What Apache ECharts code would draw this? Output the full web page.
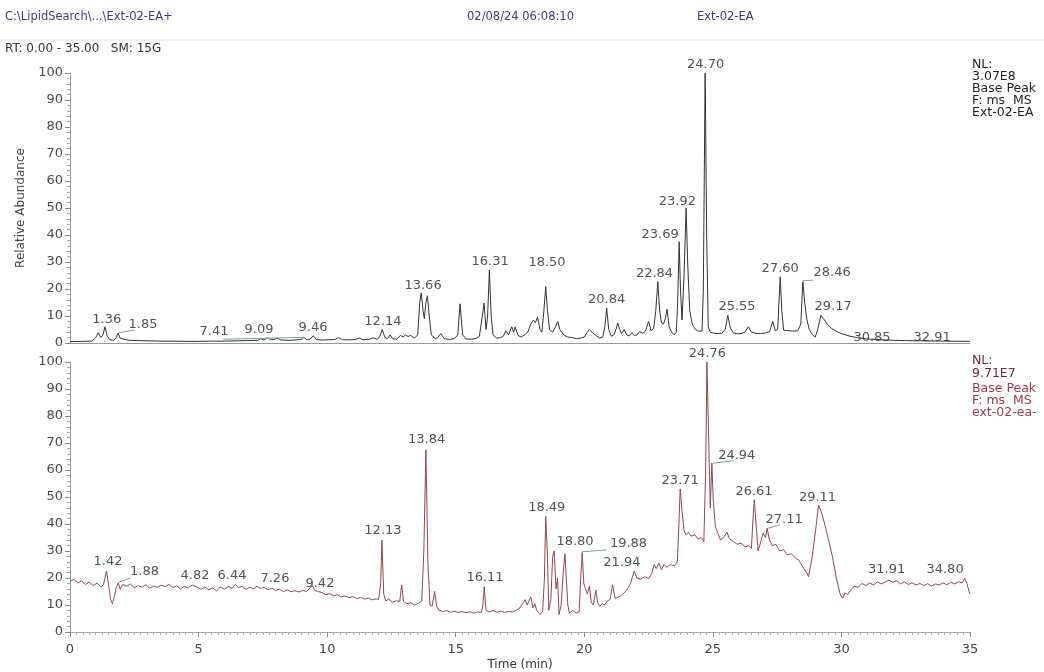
<!DOCTYPE html>
<html>
<head>
<meta charset="utf-8">
<script src="https://cdn.jsdelivr.net/npm/echarts/dist/echarts.min.js"></script>
<style>
  html, body { margin: 0; padding: 0; background: #fff; }
  #chart { width: 1044px; height: 672px; }
</style>
</head>
<body>
<div id="chart"></div>
<script>
// [time (min), relative abundance]
var topTrace = [
  [0.0,0.5],[0.5,0.6],[0.85,0.7],[1.0,2.0],[1.1,3.8],[1.2,2.0],[1.28,3.0],[1.36,6.0],[1.45,2.5],[1.55,1.2],
  [1.7,1.0],[1.8,2.0],[1.87,3.7],[1.95,1.8],[2.1,1.4],[2.3,1.0],[2.6,0.9],[3.0,0.8],[3.5,0.7],[4.0,0.7],
  [4.5,0.6],[5.0,0.6],[5.5,0.7],[6.0,0.7],[6.5,0.8],[7.0,0.9],[7.3,1.0],[7.41,1.6],[7.55,1.1],[7.68,2.0],
  [7.8,1.2],[7.95,1.3],[8.05,1.9],[8.2,1.1],[8.5,1.0],[8.8,1.1],[9.0,1.4],[9.09,2.1],[9.2,1.3],[9.35,1.5],
  [9.46,2.7],[9.58,1.3],[9.8,1.1],[10.1,1.2],[10.3,1.3],[10.45,2.0],[10.6,1.2],[10.9,1.2],[11.1,1.3],[11.25,1.8],
  [11.4,1.2],[11.65,1.4],[11.8,1.9],[11.95,1.4],[12.05,2.5],[12.14,5.0],[12.25,2.0],[12.35,1.6],[12.45,3.0],[12.55,1.6],
  [12.7,1.4],[12.85,2.8],[12.95,2.2],[13.05,3.0],[13.15,2.4],[13.25,2.8],[13.4,1.8],[13.52,3.0],[13.6,15.0],[13.66,18.6],
  [13.73,12.0],[13.78,9.0],[13.84,15.0],[13.9,17.5],[13.97,10.0],[14.05,3.0],[14.2,1.6],[14.3,2.0],[14.42,3.5],[14.55,1.6],
  [14.75,1.3],[14.95,1.6],[15.08,3.0],[15.17,14.5],[15.27,3.0],[15.4,1.5],[15.6,1.4],[15.8,1.7],[15.92,2.5],[16.02,9.0],
  [16.1,14.8],[16.18,5.0],[16.24,10.0],[16.31,27.0],[16.38,10.0],[16.45,3.0],[16.6,1.8],[16.75,2.0],[16.85,2.5],[16.95,4.5],
  [17.05,3.0],[17.18,6.0],[17.25,4.0],[17.31,6.0],[17.42,2.8],[17.55,2.2],[17.7,3.2],[17.8,4.0],[17.92,7.0],[18.02,8.5],
  [18.1,7.5],[18.18,9.6],[18.28,5.0],[18.35,4.0],[18.43,12.0],[18.5,21.0],[18.57,12.0],[18.65,5.0],[18.77,4.0],[18.88,6.0],
  [18.97,8.0],[19.05,5.0],[19.2,3.0],[19.35,2.2],[19.5,2.0],[19.7,1.6],[19.85,1.8],[20.0,2.2],[20.12,4.0],[20.2,5.0],
  [20.32,3.8],[20.45,2.8],[20.6,1.8],[20.72,2.2],[20.8,6.0],[20.87,13.0],[20.95,5.0],[21.05,2.5],[21.15,3.0],[21.25,5.5],
  [21.3,7.4],[21.38,5.0],[21.45,3.5],[21.55,5.0],[21.65,3.0],[21.75,2.6],[21.85,3.8],[21.95,2.8],[22.05,3.0],[22.15,4.2],
  [22.28,3.6],[22.38,4.4],[22.5,8.0],[22.6,4.5],[22.7,5.5],[22.78,12.0],[22.86,22.7],[22.93,12.0],[23.0,7.5],[23.08,7.0],
  [23.15,9.0],[23.22,12.5],[23.3,6.0],[23.4,4.0],[23.5,3.0],[23.58,4.0],[23.63,15.0],[23.69,37.5],[23.74,20.0],[23.8,8.5],
  [23.88,25.0],[23.96,50.0],[24.02,30.0],[24.1,12.0],[24.2,7.0],[24.32,5.0],[24.45,4.3],[24.58,4.5],[24.63,20.0],[24.7,100],
  [24.76,40.0],[24.82,6.0],[24.9,4.0],[25.05,3.6],[25.2,3.5],[25.35,3.6],[25.48,5.0],[25.58,10.3],[25.68,5.5],[25.8,3.8],
  [25.95,3.4],[26.1,3.5],[26.25,4.0],[26.38,6.0],[26.5,4.0],[26.65,3.6],[26.85,3.5],[27.05,3.7],[27.2,4.2],[27.33,8.0],
  [27.43,4.5],[27.52,5.0],[27.57,15.0],[27.62,24.5],[27.68,12.0],[27.75,4.8],[27.9,4.6],[28.1,4.4],[28.3,4.5],[28.42,7.0],
  [28.5,22.7],[28.57,15.0],[28.65,9.0],[28.75,5.0],[28.88,3.0],[28.98,2.2],[29.08,5.0],[29.2,10.3],[29.3,9.0],[29.45,7.0],
  [29.6,5.5],[29.8,4.3],[30.0,3.5],[30.3,2.6],[30.6,2.0],[31.0,1.5],[31.5,1.2],[32.0,1.0],[32.5,0.9],[33.0,0.8],
  [34.0,0.7],[35.0,0.6]
];

var bottomTrace = [
  [0.0,18.8],[0.15,19.4],[0.3,18.2],[0.45,18.9],[0.6,17.6],[0.75,18.5],[0.9,17.2],[1.05,18.1],[1.2,16.8],[1.3,17.5],
  [1.36,20.0],[1.42,22.6],[1.5,17.5],[1.58,12.0],[1.65,10.5],[1.72,13.0],[1.8,16.5],[1.88,18.2],[1.95,15.8],[2.05,17.6],
  [2.2,16.9],[2.35,17.8],[2.5,16.4],[2.65,17.2],[2.8,16.6],[2.95,17.5],[3.1,16.2],[3.25,17.0],[3.4,16.5],[3.55,17.4],
  [3.7,16.8],[3.85,17.6],[4.0,16.4],[4.15,17.1],[4.3,16.0],[4.45,16.9],[4.6,16.3],[4.75,17.4],[4.82,17.8],[4.95,16.6],
  [5.1,15.8],[5.25,16.7],[5.4,15.6],[5.55,16.4],[5.7,15.2],[5.85,16.6],[6.0,15.9],[6.15,16.8],[6.3,16.2],[6.44,17.6],
  [6.55,16.4],[6.7,16.9],[6.85,15.8],[7.0,16.6],[7.15,15.9],[7.26,17.0],[7.4,16.1],[7.55,16.5],[7.7,15.6],[7.85,16.2],
  [8.0,15.4],[8.15,15.8],[8.3,15.0],[8.45,15.6],[8.6,14.9],[8.75,15.3],[8.9,14.8],[9.05,15.4],[9.2,15.0],[9.3,16.0],
  [9.42,17.2],[9.52,15.4],[9.65,15.0],[9.8,14.6],[9.95,13.8],[10.1,14.2],[10.25,13.4],[10.4,13.8],[10.55,13.0],[10.7,13.4],
  [10.85,12.7],[11.0,13.1],[11.15,12.4],[11.3,12.8],[11.45,12.2],[11.6,12.6],[11.75,11.9],[11.9,12.3],[12.0,12.0],[12.08,18.0],
  [12.13,34.0],[12.2,14.0],[12.28,11.5],[12.4,12.2],[12.55,11.0],[12.7,11.6],[12.82,11.2],[12.9,17.4],[12.97,11.4],[13.1,10.5],
  [13.25,10.9],[13.4,10.0],[13.55,10.6],[13.68,11.5],[13.76,30.0],[13.84,67.5],[13.92,25.0],[14.0,10.0],[14.08,9.6],[14.18,15.0],
  [14.26,9.5],[14.35,8.0],[14.5,7.6],[14.65,7.9],[14.8,7.3],[14.95,7.7],[15.1,7.2],[15.25,7.6],[15.4,7.1],[15.55,7.5],
  [15.7,7.0],[15.85,7.4],[16.0,7.2],[16.06,10.0],[16.11,16.8],[16.18,8.0],[16.3,7.4],[16.45,8.0],[16.6,7.3],[16.75,7.8],
  [16.9,7.2],[17.05,7.6],[17.2,7.4],[17.35,8.0],[17.5,9.0],[17.6,10.5],[17.7,12.0],[17.78,10.0],[17.85,11.5],[17.92,13.0],
  [18.0,9.0],[18.08,10.5],[18.15,8.0],[18.28,6.5],[18.38,7.5],[18.45,20.0],[18.5,42.8],[18.56,30.0],[18.62,8.0],[18.7,12.0],
  [18.77,28.0],[18.83,30.0],[18.9,16.0],[18.96,20.0],[19.02,6.5],[19.1,10.0],[19.18,22.0],[19.25,29.0],[19.3,20.0],[19.36,10.0],
  [19.42,7.0],[19.55,8.0],[19.68,7.0],[19.8,7.5],[19.86,20.0],[19.92,29.4],[19.98,18.0],[20.05,16.0],[20.12,14.0],[20.2,17.0],
  [20.27,11.0],[20.35,10.0],[20.45,15.5],[20.52,11.0],[20.6,9.5],[20.7,10.5],[20.8,10.0],[20.9,11.5],[21.0,12.0],[21.1,17.5],
  [21.2,12.5],[21.35,13.0],[21.5,14.0],[21.65,15.5],[21.8,18.0],[21.94,22.5],[22.05,20.0],[22.2,19.5],[22.35,20.5],[22.5,19.8],
  [22.62,21.5],[22.72,25.0],[22.8,23.5],[22.9,25.5],[23.0,23.0],[23.1,25.0],[23.2,24.0],[23.35,25.0],[23.5,24.5],[23.62,26.0],
  [23.68,40.0],[23.73,53.0],[23.8,45.0],[23.88,37.5],[23.96,36.0],[24.05,37.0],[24.15,35.5],[24.3,36.0],[24.42,34.5],[24.55,35.0],
  [24.65,33.5],[24.72,60.0],[24.77,100],[24.84,70.0],[24.9,46.0],[24.96,62.5],[25.02,48.0],[25.1,39.0],[25.2,36.5],[25.3,34.0],
  [25.45,35.5],[25.55,37.0],[25.65,34.5],[25.8,33.5],[25.95,32.5],[26.1,33.0],[26.25,31.5],[26.4,32.0],[26.5,31.0],[26.55,40.0],
  [26.61,49.0],[26.68,40.0],[26.76,30.0],[26.85,33.0],[26.95,36.5],[27.05,35.0],[27.11,38.5],[27.2,34.0],[27.32,32.0],[27.45,32.5],
  [27.6,30.0],[27.75,30.5],[27.9,28.5],[28.05,29.0],[28.2,27.5],[28.35,26.5],[28.5,24.0],[28.65,22.0],[28.72,20.5],[28.85,27.0],
  [29.0,38.0],[29.11,47.0],[29.2,45.0],[29.35,40.0],[29.5,34.0],[29.65,28.0],[29.8,20.0],[29.95,14.0],[30.05,12.5],[30.15,14.5],
  [30.25,13.8],[30.35,15.5],[30.5,17.0],[30.65,16.5],[30.8,18.0],[30.95,17.2],[31.1,18.2],[31.25,17.4],[31.4,18.6],[31.55,17.8],
  [31.7,18.5],[31.85,19.2],[31.91,19.6],[32.0,18.4],[32.15,19.0],[32.3,17.8],[32.45,18.6],[32.6,17.6],[32.75,18.2],[32.9,17.4],
  [33.05,18.0],[33.2,17.2],[33.35,17.9],[33.5,17.0],[33.65,17.8],[33.8,17.4],[33.95,18.2],[34.1,17.5],[34.25,18.4],[34.4,17.8],
  [34.55,18.6],[34.7,18.2],[34.8,19.8],[34.88,18.0],[34.95,15.5],[35.0,14.0]
];

// peak annotations: [time, abundance where the text sits, text]
var topLabels = [
  [1.43,8.8,'1.36'],[2.84,6.7,'1.85'],[5.6,4.1,'7.41'],[7.35,4.8,'9.09'],[9.45,5.6,'9.46'],
  [12.17,7.8,'12.14'],[13.73,21.1,'13.66'],[16.34,30,'16.31'],[18.55,29.6,'18.50'],[20.87,15.9,'20.84'],
  [22.73,25.8,'22.84'],[22.95,40,'23.69'],[23.62,52.3,'23.92'],[24.72,103,'24.70'],[25.94,13.3,'25.55'],
  [27.62,27.4,'27.60'],[29.64,25.9,'28.46'],[29.68,13.3,'29.17'],[31.19,1.9,'30.85'],[33.53,1.9,'32.91']
];
var bottomLabels = [
  [1.48,25.9,'1.42'],[2.9,22.2,'1.88'],[4.86,20.7,'4.82'],[6.3,20.7,'6.44'],[7.97,19.6,'7.26'],
  [9.72,18.1,'9.42'],[12.17,37.4,'12.13'],[13.87,71.1,'13.84'],[16.14,20,'16.11'],[18.54,45.9,'18.49'],
  [19.64,33.4,'18.80'],[21.72,32.6,'19.88'],[21.46,25.8,'21.94'],[23.73,56,'23.71'],[24.79,103.2,'24.76'],
  [25.93,65.2,'24.94'],[26.6,52,'26.61'],[27.77,41.5,'27.11'],[29.07,49.7,'29.11'],[31.76,23,'31.91'],
  [34.03,23,'34.80']
];

// leader lines from a peak to its shifted label
var topLeaders = [
  [[1.88,3.8],[2.5,4.8]],
  [[5.96,1.4],[9.14,2.1]],
  [[28.5,23.1],[28.9,23.3]]
];
var bottomLeaders = [
  [[1.9,18.5],[2.35,20.0]],
  [[19.9,29.7],[20.87,30.4]],
  [[24.98,62.5],[25.8,63.4]],
  [[27.12,38.4],[27.6,39.6]]
];

var yTicks = { min: 0, max: 100, interval: 10 };
var xTicks = { min: 0, max: 35, interval: 5 };

var FONT = 'DejaVu Sans';

function yAxisOf(idx, name) {
  return {
    type: 'value',
    gridIndex: idx,
    min: yTicks.min, max: yTicks.max, interval: yTicks.interval,
    name: name,
    nameLocation: 'middle',
    nameGap: 41,
    nameTextStyle: { fontFamily: FONT, fontSize: 12, color: '#444' },
    axisLine: { show: true, lineStyle: { color: '#999', width: 1 } },
    axisTick: { show: true, length: 5, lineStyle: { color: '#888' } },
    minorTick: { show: true, splitNumber: 5, length: 3, lineStyle: { color: '#aaa' } },
    splitLine: { show: false },
    axisLabel: { fontFamily: FONT, fontSize: 13, color: '#4a4a4a', margin: 7 }
  }
}

function labelSeries(idx, labels) {
  return {
    type: 'scatter',
    xAxisIndex: idx, yAxisIndex: idx,
    data: labels,
    symbolSize: 0,
    clip: false,
    silent: true,
    itemStyle: { color: 'transparent' },
    label: {
      show: true,
      position: 'inside',
      formatter: function (p) { return p.data[2] },
      fontFamily: FONT, fontSize: 13, color: '#262626'
    }
  }
}

function leaderLines(leaders) {
  return {
    silent: true,
    symbol: ['none', 'none'],
    label: { show: false },
    lineStyle: { color: '#7f9c9a', width: 1, type: 'solid' },
    data: leaders.map(function (l) { return [{ coord: l[0] }, { coord: l[1] }] })
  }
}

var chart = echarts.init(document.getElementById('chart'), null, { renderer: 'canvas' });

var option = {
  animation: false,
  backgroundColor: '#fff',
  grid: [
    { left: 70, top: 73, width: 900, height: 270 },
    { left: 70, top: 362, width: 900, height: 270 }
  ],
  xAxis: [
    {
      type: 'value', gridIndex: 0,
      min: xTicks.min, max: xTicks.max, interval: xTicks.interval,
      axisLine: { show: true, lineStyle: { color: '#999' } },
      axisTick: { show: false },
      axisLabel: { show: false },
      splitLine: { show: false }
    },
    {
      type: 'value', gridIndex: 1,
      min: xTicks.min, max: xTicks.max, interval: xTicks.interval,
      name: 'Time (min)',
      nameLocation: 'middle',
      nameGap: 27,
      nameTextStyle: { fontFamily: FONT, fontSize: 12, color: '#333' },
      axisLine: { show: true, lineStyle: { color: '#aaa' } },
      axisTick: { show: true, length: 5, lineStyle: { color: '#888' } },
      minorTick: { show: true, splitNumber: 20, length: 3, lineStyle: { color: '#aaa' } },
      splitLine: { show: false },
      axisLabel: { fontFamily: FONT, fontSize: 13, color: '#444', margin: 11 }
    }
  ],
  yAxis: [yAxisOf(0, 'Relative Abundance'), yAxisOf(1, '')],
  series: [
    {
      type: 'line', xAxisIndex: 0, yAxisIndex: 0,
      data: topTrace, symbol: 'none',
      lineStyle: { color: '#333', width: 1 },
      markLine: leaderLines(topLeaders)
    },
    {
      type: 'line', xAxisIndex: 1, yAxisIndex: 1,
      data: bottomTrace, symbol: 'none',
      lineStyle: { color: '#8a4a52', width: 1 },
      markLine: leaderLines(bottomLeaders)
    },
    labelSeries(0, topLabels),
    labelSeries(1, bottomLabels)
  ],
  graphic: [
    { type: 'text', left: 5, top: 11, style: { text: 'C:\\LipidSearch\\...\\Ext-02-EA+', font: '11.5px "DejaVu Sans"', fill: '#3b3b78' } },
    { type: 'text', left: 467, top: 11, style: { text: '02/08/24 06:08:10', font: '11.5px "DejaVu Sans"', fill: '#3b3b78' } },
    { type: 'text', left: 697, top: 11, style: { text: 'Ext-02-EA', font: '11.5px "DejaVu Sans"', fill: '#3b3b78' } },
    { type: 'line', shape: { x1: 0, y1: 40, x2: 1044, y2: 40 }, style: { stroke: '#e2e2e2', lineWidth: 1 } },
    { type: 'text', left: 5, top: 43, style: { text: 'RT: 0.00 - 35.00   SM: 15G', font: '12px "DejaVu Sans"', fill: '#333' } },
    { type: 'text', left: 972, top: 58, style: { text: 'NL:\n3.07E8\nBase Peak\nF: ms  MS\nExt-02-EA', font: '12.5px "DejaVu Sans"', lineHeight: 12, fill: '#222' } },
    { type: 'text', left: 972, top: 354, style: { text: 'NL:\n9.71E7', font: '12.5px "DejaVu Sans"', lineHeight: 13, fill: '#6e2a35' } },
    { type: 'text', left: 972, top: 382, style: { text: 'Base Peak\nF: ms  MS\next-02-ea-', font: '12.5px "DejaVu Sans"', lineHeight: 12, fill: '#9c3a48' } }
  ]
};

chart.setOption(option);
</script>
</body>
</html>
